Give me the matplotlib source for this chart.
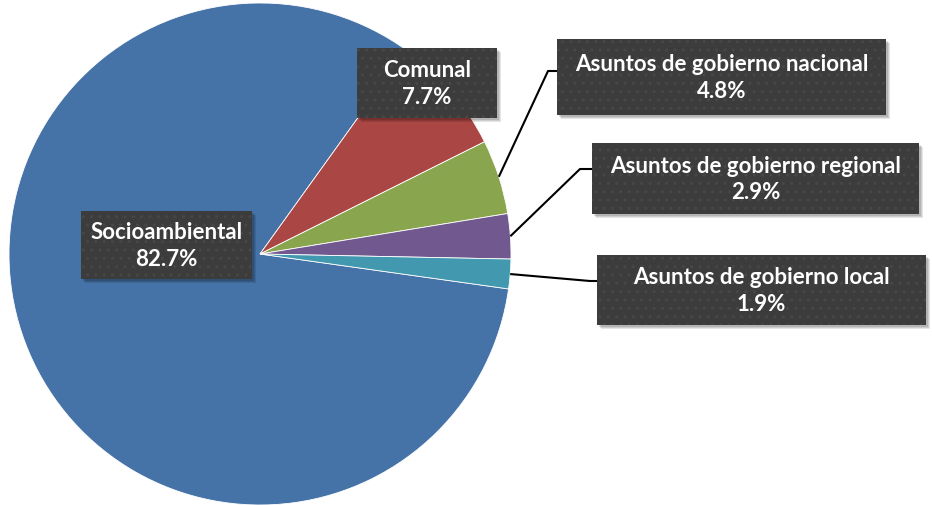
import numpy as np
import matplotlib
matplotlib.use("Agg")
import matplotlib.pyplot as plt
from matplotlib.patches import Rectangle

categories = ["Socioambiental", "Comunal", "Asuntos de gobierno nacional",
              "Asuntos de gobierno regional", "Asuntos de gobierno local"]
values = [82.7, 7.7, 4.8, 2.9, 1.9]
labels = ["82.7%", "7.7%", "4.8%", "2.9%", "1.9%"]
colors = ["#4572A7", "#AA4643", "#89A54E", "#71588F", "#4198AF"]

W, H = 932, 506
fig = plt.figure(figsize=(W / 100, H / 100), dpi=100)
ax = fig.add_axes([0, 0, 1, 1])

cx, cy, R = 260, H - 255, 251
wedges, _ = ax.pie(values, colors=colors, startangle=-8.0, counterclock=False,
                   center=(cx, cy), radius=R, frame=True,
                   wedgeprops=dict(edgecolor="white", linewidth=0.6))
ax.set_xlim(0, W)
ax.set_ylim(0, H)
ax.axis("off")

# label boxes (image pixel coords: x0, y0, x1, y1)
boxes = [(81, 212, 252, 280), (357, 49, 497, 119), (557, 40, 886, 116),
         (592, 144, 919, 215), (597, 256, 926, 326)]
# elbow points for leader lines (None => no leader)
elbows = [None, None, (548, 72), (580, 170), (590, 282)]

for i, (w, cat, lab) in enumerate(zip(wedges, categories, labels)):
    x0, y0, x1, y1 = boxes[i]
    if elbows[i] is not None:
        mid = np.deg2rad((w.theta1 + w.theta2) / 2)
        sx, sy = cx + R * np.cos(mid), cy + R * np.sin(mid)
        ex, ey = elbows[i]
        ax.plot([sx, ex, x0], [sy, H - ey, H - ey], color="black", lw=1.5,
                solid_capstyle="butt", zorder=3)
    # shadow
    for k, a in enumerate([0.10, 0.10, 0.12]):
        off = 4 - k
        ax.add_patch(Rectangle((x0 + off, H - y1 - off), x1 - x0, y1 - y0,
                               facecolor="black", edgecolor="none", alpha=a, zorder=4))
    ax.add_patch(Rectangle((x0, H - y1), x1 - x0, y1 - y0, facecolor="#3c3c3c",
                           edgecolor="none", zorder=5))
    ax.add_patch(Rectangle((x0, H - y1), x1 - x0, y1 - y0, facecolor="none",
                           edgecolor="#474747", hatch="..", linewidth=0, zorder=5))
    ax.text((x0 + x1) / 2, H - (y0 + y1) / 2, f"{cat}\n{lab}", ha="center",
            va="center", color="white", fontsize=16, fontweight="bold",
            family="Lato", linespacing=1.3, zorder=6)

fig.savefig("out.png", dpi=100)
